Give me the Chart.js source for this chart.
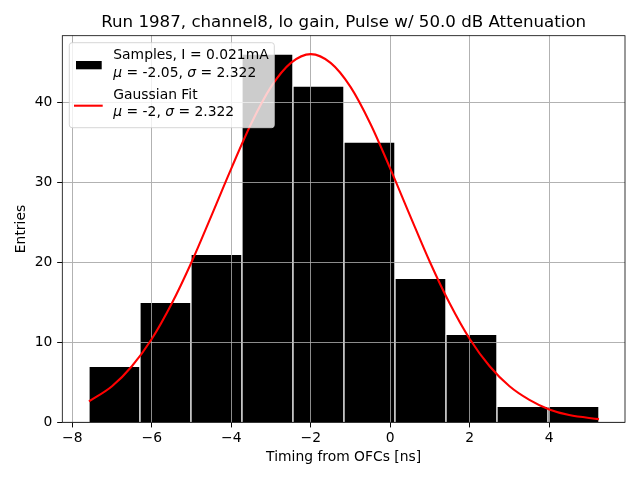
<!DOCTYPE html>
<html>
<head>
<meta charset="utf-8">
<script src="https://cdn.jsdelivr.net/npm/chart.js@4.4.1/dist/chart.umd.min.js"></script>
<style>
html,body{margin:0;padding:0;background:#fff;}
#wrap{width:640px;height:480px;position:relative;}
</style>
</head>
<body>
<div id="wrap"><canvas id="c" width="640" height="480"></canvas></div>
<script>
// ---- data ----
const binCenters = [-6.9385, -5.6555, -4.3725, -3.0895, -1.8065, -0.5235, 0.7595, 2.0425, 3.3255, 4.6085];
const binCounts  = [7, 15, 21, 46, 42, 35, 18, 11, 2, 2];
const fitX = [-7.58, -7, -6.5, -6, -5.5, -5, -4.5, -4, -3.5, -3, -2.5, -2, -1.5, -1, -0.5, 0, 0.5, 1, 1.5, 2, 2.5, 3, 3.5, 4, 4.5, 5.25];
const fitY = [2.6, 4.5, 7.0, 10.4, 14.8, 20.0, 25.8, 31.7, 37.3, 41.9, 44.9, 46.0, 44.9, 41.9, 37.3, 31.7, 25.8, 20.0, 14.8, 10.4, 7.0, 4.5, 2.8, 1.6, 0.9, 0.4];
const xTicks = [-8, -6, -4, -2, 0, 2, 4];
const yTicks = [0, 10, 20, 30, 40];
const titleText = "Run 1987, channel8, lo gain, Pulse w/ 50.0 dB Attenuation";
const xLabel = "Timing from OFCs [ns]";
const yLabel = "Entries";
const legendSamples = ["Samples, I = 0.021mA", "-2.05", "2.322"];
const legendFit = ["Gaussian Fit", "-2", "2.322"];

const FONT = "'DejaVu Sans', sans-serif";
const fmt = v => String(v).replace('-', '\u2212');

const AREA = {left: 62.3, right: 625, top: 35.7, bottom: 422.3};

const overlay = {
  id: 'overlay',
  afterDatasetDraw(chart, args) {
    if (args.index === 0) {
      chart.scales.x.drawGrid(chart.chartArea);
      chart.scales.y.drawGrid(chart.chartArea);
    }
  },
  afterDraw(chart) {
    const ctx = chart.ctx;
    const ca = chart.chartArea;
    ctx.save();
    // spines
    ctx.strokeStyle = '#000';
    ctx.lineWidth = 0.8;
    ctx.strokeRect(ca.left, ca.top, ca.right - ca.left, ca.bottom - ca.top);
    // title
    ctx.fillStyle = '#000';
    ctx.font = "16.67px " + FONT;
    ctx.textAlign = 'center';
    ctx.textBaseline = 'alphabetic';
    ctx.fillText(titleText, (ca.left + ca.right) / 2, 27.3);
    // legend box
    const bx = 69.3, by = 42.7, bw = 205, bh = 85, r = 2.8;
    ctx.beginPath();
    ctx.moveTo(bx + r, by);
    ctx.lineTo(bx + bw - r, by);
    ctx.arcTo(bx + bw, by, bx + bw, by + r, r);
    ctx.lineTo(bx + bw, by + bh - r);
    ctx.arcTo(bx + bw, by + bh, bx + bw - r, by + bh, r);
    ctx.lineTo(bx + r, by + bh);
    ctx.arcTo(bx, by + bh, bx, by + bh - r, r);
    ctx.lineTo(bx, by + r);
    ctx.arcTo(bx, by, bx + r, by, r);
    ctx.closePath();
    ctx.fillStyle = 'rgba(255,255,255,0.8)';
    ctx.fill();
    ctx.strokeStyle = 'rgba(204,204,204,0.8)';
    ctx.lineWidth = 1;
    ctx.stroke();
    // patch
    ctx.fillStyle = '#000';
    ctx.fillRect(76, 61, 25.7, 8.3);
    // line
    ctx.strokeStyle = '#ff0000';
    ctx.lineWidth = 2.08;
    ctx.beginPath();
    ctx.moveTo(74, 105.7);
    ctx.lineTo(102.7, 105.7);
    ctx.stroke();
    // texts
    ctx.fillStyle = '#000';
    ctx.textAlign = 'left';
    const normal = "13.89px " + FONT;
    const italic = "oblique 13.89px " + FONT;
    const drawStat = (mu, sig, x, y) => {
      const parts = [[italic, "\u03bc"], [normal, " = " + mu + ", "], [italic, "\u03c3"], [normal, " = " + sig]];
      let cx = x;
      for (const [f, t] of parts) {
        ctx.font = f;
        ctx.fillText(t, cx, y);
        cx += ctx.measureText(t).width;
      }
    };
    ctx.font = normal;
    ctx.fillText(legendSamples[0], 113.3, 59.3);
    drawStat(legendSamples[1], legendSamples[2], 113.3, 76.7);
    ctx.font = normal;
    ctx.fillText(legendFit[0], 113.3, 99);
    drawStat(legendFit[1], legendFit[2], 113.3, 116);
    ctx.restore();
  }
};

const tickFont = {family: FONT, size: 13.89};

new Chart(document.getElementById('c'), {
  type: 'bar',
  data: {
    datasets: [
      {
        type: 'bar',
        label: 'Samples',
        data: binCenters.map((c, i) => ({x: c, y: binCounts[i]})),
        backgroundColor: '#000000',
        borderColor: '#ffffff',
        borderWidth: 1,
        barPercentage: 1,
        categoryPercentage: 1,
        order: 1
      },
      {
        type: 'line',
        label: 'Gaussian Fit',
        data: fitX.map((x, i) => ({x: x, y: fitY[i]})),
        borderColor: '#ff0000',
        borderWidth: 2.08,
        pointRadius: 0,
        fill: false,
        cubicInterpolationMode: 'monotone',
        order: 0
      }
    ]
  },
  options: {
    responsive: false,
    animation: false,
    devicePixelRatio: 1,
    layout: {padding: {top: AREA.top, right: 640 - AREA.right, left: 0, bottom: 0}},
    plugins: {
      legend: {display: false},
      title: {display: false},
      tooltip: {enabled: false}
    },
    scales: {
      x: {
        type: 'linear',
        min: -8.25,
        max: 5.905,
        offset: false,
        afterFit: s => { s.height = 480 - AREA.bottom; },
        afterBuildTicks: s => { s.ticks = xTicks.map(v => ({value: v})); },
        ticks: {font: tickFont, color: '#000', padding: 3, callback: v => fmt(v), maxRotation: 0, autoSkip: false},
        grid: {color: '#b0b0b0', lineWidth: 0.8, tickColor: '#000', tickLength: 5, offset: false},
        border: {display: false},
        title: {display: true, text: xLabel, font: tickFont, color: '#000', padding: {top: 0, bottom: 14.7}}
      },
      y: {
        type: 'linear',
        min: 0,
        max: 48.3,
        afterFit: s => { s.width = AREA.left; },
        afterBuildTicks: s => { s.ticks = yTicks.map(v => ({value: v})); },
        ticks: {font: tickFont, color: '#000', padding: 5, callback: v => fmt(v)},
        grid: {color: '#b0b0b0', lineWidth: 0.8, tickColor: '#000', tickLength: 5},
        border: {display: false},
        title: {display: true, text: yLabel, font: tickFont, color: '#000', padding: {top: 13.4, bottom: 0}}
      }
    }
  },
  plugins: [overlay]
});
</script>
</body>
</html>
